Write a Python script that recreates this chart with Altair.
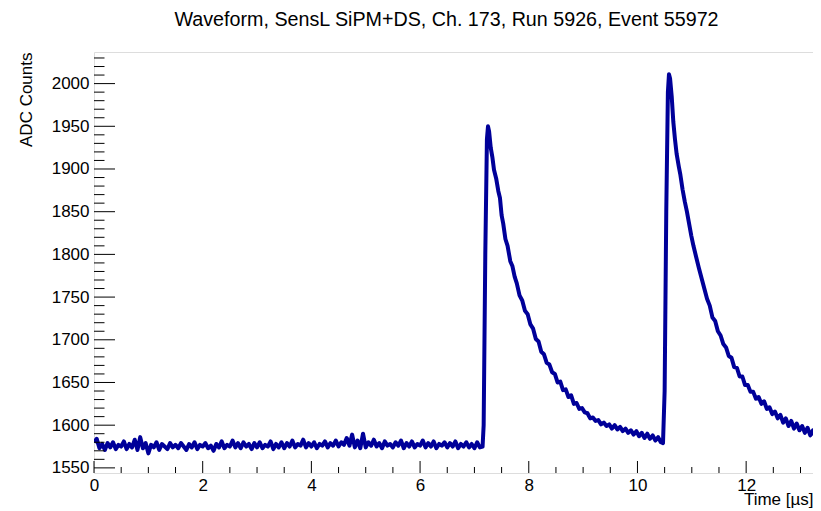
import altair as alt
import pandas as pd

# ---------------- data ----------------
BASE_START_US = 0.0
BASE_STEP_US = 0.05
baseline_adc = [
    1580, 1584, 1573, 1578, 1571, 1579, 1574, 1580, 1572, 1577,
    1575, 1581, 1572, 1578, 1574, 1583, 1571, 1586, 1573, 1579,
    1567, 1577, 1574, 1580, 1571, 1578, 1575, 1572, 1579, 1574,
    1577, 1573, 1579, 1575, 1571, 1578, 1574, 1580, 1572, 1577,
    1575, 1579, 1573, 1576, 1570, 1578, 1574, 1581, 1573, 1577,
    1575, 1582, 1574, 1579, 1573, 1580, 1575, 1578, 1572, 1579,
    1574, 1580, 1573, 1577, 1575, 1581, 1572, 1578, 1574, 1580,
    1573, 1579, 1575, 1582, 1574, 1578, 1576, 1583, 1574, 1579,
    1575, 1580, 1573, 1578, 1576, 1581, 1574, 1579, 1576, 1582,
    1575, 1580, 1577, 1585, 1576, 1589, 1574, 1582, 1573, 1590,
    1574, 1580, 1576, 1583, 1575, 1579, 1573, 1581, 1576, 1578,
    1574, 1580, 1576, 1582, 1573, 1579, 1575, 1581, 1574, 1578,
    1576, 1582, 1574, 1579, 1575, 1581, 1573, 1578, 1576, 1580,
    1574, 1579, 1575, 1581, 1573, 1578, 1575, 1580, 1574, 1578,
    1573, 1580, 1574, 1575,
]

pulse_time_us = [
    7.17, 7.20, 7.23, 7.25, 7.27, 7.30, 7.33, 7.36, 7.40, 7.44,
    7.47, 7.50, 7.53, 7.57, 7.61, 7.66, 7.70, 7.74, 7.78, 7.83,
    7.88, 7.93, 7.98, 8.03, 8.08, 8.13, 8.18, 8.23, 8.28, 8.33,
    8.38, 8.43, 8.48, 8.53, 8.58, 8.63, 8.68, 8.73, 8.78, 8.83,
    8.88, 8.93, 8.98, 9.03, 9.08, 9.13, 9.18, 9.23, 9.28, 9.33,
    9.38, 9.43, 9.48, 9.53, 9.58, 9.63, 9.68, 9.73, 9.78, 9.83,
    9.88, 9.93, 9.98, 10.03, 10.08, 10.13, 10.18, 10.23, 10.28, 10.33,
    10.38, 10.43, 10.47,
    10.50, 10.53, 10.56, 10.58, 10.60, 10.63, 10.66, 10.69, 10.72, 10.76,
    10.79, 10.83, 10.87, 10.91, 10.95, 10.99, 11.03, 11.08, 11.13, 11.18,
    11.23, 11.28, 11.33, 11.38, 11.43, 11.48, 11.53, 11.58, 11.63, 11.68,
    11.73, 11.78, 11.83, 11.88, 11.93, 11.98, 12.03, 12.08, 12.13, 12.18,
    12.23, 12.28, 12.33, 12.38, 12.43, 12.48, 12.53, 12.58, 12.63, 12.68,
    12.73, 12.78, 12.83, 12.88, 12.93, 12.98, 13.03, 13.08, 13.13, 13.18,
    13.23, 13.28, 13.33,
]
pulse_adc = [
    1600, 1800, 1935, 1950, 1944, 1925, 1914, 1899, 1889, 1874,
    1866, 1846, 1836, 1818, 1810, 1792, 1786, 1774, 1766, 1752,
    1746, 1734, 1730, 1718, 1713, 1701, 1698, 1686, 1683, 1673,
    1671, 1662, 1660, 1650, 1651, 1641, 1642, 1633, 1635, 1625,
    1626, 1619, 1620, 1615, 1614, 1608, 1609, 1605, 1606, 1601,
    1603, 1599, 1601, 1596, 1600, 1595, 1598, 1593, 1596, 1591,
    1594, 1589, 1593, 1587, 1591, 1585, 1590, 1584, 1588, 1582,
    1586, 1580, 1579,
    1640, 1850, 1990, 2011, 2006, 1985, 1955, 1935, 1918, 1903,
    1893, 1876, 1862, 1850, 1836, 1822, 1810, 1797, 1784, 1772,
    1760, 1748, 1740, 1726, 1722, 1710, 1705, 1695, 1691, 1681,
    1679, 1668, 1667, 1657, 1657, 1647, 1647, 1639, 1639, 1631,
    1633, 1625, 1628, 1619, 1621, 1613, 1616, 1608, 1612, 1603,
    1608, 1599, 1605, 1596, 1602, 1594, 1599, 1591, 1597, 1588,
    1594, 1586, 1589,
]

x_major = [0, 2, 4, 6, 8, 10, 12]
x_minor = [0.5, 1, 1.5, 2.5, 3, 3.5, 4.5, 5, 5.5, 6.5, 7, 7.5, 8.5, 9, 9.5,
           10.5, 11, 11.5, 12.5, 13]
y_major = [1550, 1600, 1650, 1700, 1750, 1800, 1850, 1900, 1950, 2000]
y_minor = [1560, 1570, 1580, 1590, 1610, 1620, 1630, 1640, 1660, 1670, 1680,
           1690, 1710, 1720, 1730, 1740, 1760, 1770, 1780, 1790, 1810, 1820,
           1830, 1840, 1860, 1870, 1880, 1890, 1910, 1920, 1930, 1940, 1960,
           1970, 1980, 1990, 2010, 2020, 2030]

X_DOMAIN = [0, 13.23]
Y_DOMAIN = [1544, 2037]

TITLE = "Waveform, SensL SiPM+DS, Ch. 173, Run 5926, Event 55972"

# ---------------- build ----------------
W, H = 719, 421
FONT = "Liberation Sans"
LINE_COLOR = "#000099"

base_t = [BASE_START_US + i * BASE_STEP_US for i in range(len(baseline_adc))]
wave = pd.DataFrame({"t": base_t + pulse_time_us, "v": baseline_adc + pulse_adc})

xscale = alt.Scale(domain=X_DOMAIN, nice=False, zero=False)
yscale = alt.Scale(domain=Y_DOMAIN, nice=False, zero=False)

xaxis = alt.Axis(
    values=x_major, ticks=False, tickSize=0, domain=False, grid=False,
    labelFont=FONT, labelFontSize=17, labelColor="black", labelPadding=4,
    labelFlush=False, format="d",
    title="Time [µs]", titleFont=FONT, titleFontSize=17, titleFontWeight="normal",
    titleColor="black", titleAlign="right", titleAnchor="end",
    titleBaseline="alphabetic", titleX=W, titleY=31.5,
)
yaxis = alt.Axis(
    values=y_major, ticks=False, tickSize=0, domain=False, grid=False,
    labelFont=FONT, labelFontSize=17, labelColor="black", labelPadding=5,
    labelFlush=False, format="d",
    title="ADC Counts", titleFont=FONT, titleFontSize=17, titleFontWeight="normal",
    titleColor="black", titleAngle=270, titleAlign="right",
    titleBaseline="alphabetic", titleX=-63, titleY=0,
)

line = alt.Chart(wave).mark_line(
    color=LINE_COLOR, strokeWidth=4, strokeJoin="round", clip=True
).encode(
    x=alt.X("t:Q", scale=xscale, axis=xaxis),
    y=alt.Y("v:Q", scale=yscale, axis=yaxis),
)

def ymarks(vals, length):
    return alt.Chart(pd.DataFrame({"v": vals})).mark_rule(
        color="black", strokeWidth=1
    ).encode(
        y=alt.Y("v:Q", scale=yscale, axis=yaxis),
        x=alt.value(0), x2=alt.value(length),
    )

def xmarks(vals, length):
    return alt.Chart(pd.DataFrame({"t": vals})).mark_rule(
        color="black", strokeWidth=1
    ).encode(
        x=alt.X("t:Q", scale=xscale, axis=xaxis),
        y=alt.value(H), y2=alt.value(H - length),
    )

chart = alt.layer(
    line,
    ymarks(y_major, 21), ymarks(y_minor, 10.5),
    xmarks(x_major, 12), xmarks(x_minor, 6),
).properties(
    width=W, height=H,
    title=alt.TitleParams(
        TITLE, font=FONT, fontSize=19.7, fontWeight="normal", color="black",
        anchor="middle", dx=-7, baseline="alphabetic", offset=6,
    ),
    padding={"left": 86, "top": 44, "right": 0, "bottom": 37},
    autosize=alt.AutoSizeParams(type="none"),
).configure_view(
    stroke="black", strokeWidth=1
).configure(background="white")

chart.save("out.html", embed_options={"renderer": "svg", "actions": False})
